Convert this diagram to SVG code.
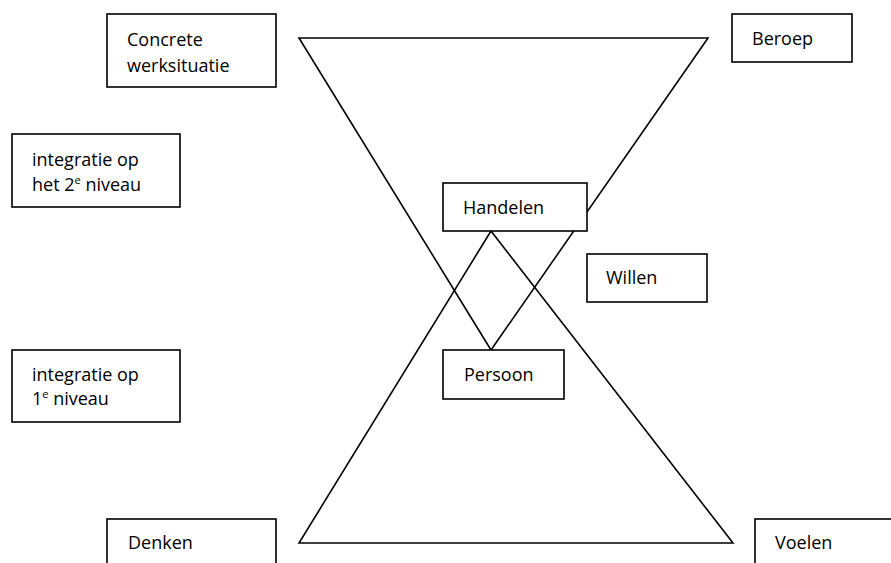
<svg xmlns="http://www.w3.org/2000/svg" width="891" height="563" viewBox="0 0 891 563">
<style>
.box{fill:#fff;stroke:#000;stroke-width:1.6}
.ln{fill:none;stroke:#000;stroke-width:1.6;stroke-linejoin:miter}
text{font-family:"Open Sans","Noto Sans",sans-serif;font-size:18px;fill:#000}
.sup{font-size:11px}
</style>
<rect width="891" height="563" fill="#fff"/>
<g id="connectors">
<polygon class="ln" points="299,38 708,38 491,350"/>
<polygon class="ln" points="491,231 299,543 733,543"/>
</g>
<g id="concrete"><rect class="box" x="107" y="14" width="169" height="73"/><text x="127" y="46">Concrete</text><text x="127" y="72">werksituatie</text></g>
<g id="beroep"><rect class="box" x="732" y="14" width="120" height="48"/><text x="752" y="45">Beroep</text></g>
<g id="integratie2"><rect class="box" x="12" y="134" width="168" height="73"/><text x="32" y="166">integratie op</text><text x="32" y="191">het 2<tspan class="sup" dy="-7">e</tspan><tspan dy="7"> niveau</tspan></text></g>
<g id="handelen"><rect class="box" x="443" y="183" width="144" height="48"/><text x="463" y="214">Handelen</text></g>
<g id="willen"><rect class="box" x="587" y="254" width="120" height="48"/><text x="606" y="284">Willen</text></g>
<g id="persoon"><rect class="box" x="443" y="350" width="121" height="49"/><text x="464" y="381">Persoon</text></g>
<g id="integratie1"><rect class="box" x="12" y="350" width="168" height="72"/><text x="32" y="381">integratie op</text><text x="32" y="405">1<tspan class="sup" dy="-7">e</tspan><tspan dy="7"> niveau</tspan></text></g>
<g id="denken"><rect class="box" x="107" y="519" width="169" height="60"/><text x="128" y="549">Denken</text></g>
<g id="voelen"><rect class="box" x="755" y="519" width="150" height="60"/><text x="775" y="549">Voelen</text></g>
</svg>
